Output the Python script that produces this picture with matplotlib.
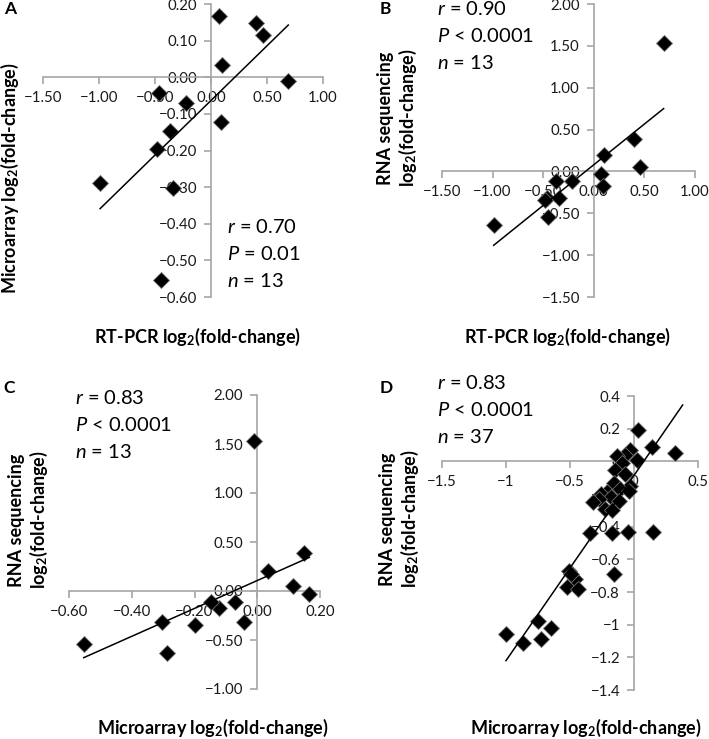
import numpy as np
import matplotlib
matplotlib.use("Agg")
import matplotlib.pyplot as plt

# =============================
# DATA
# =============================

# 13 genes: RT-PCR vs microarray vs RNA sequencing, log2(fold-change)
rtpcr = [0.07, 0.40, 0.46, 0.10, 0.69, -0.46, -0.22, 0.09, -0.37, -0.48, -0.99, -0.34, -0.45]
microarray = [0.166, 0.148, 0.114, 0.033, -0.010, -0.042, -0.070, -0.122, -0.148, -0.197, -0.288, -0.302, -0.553]
rnaseq = [-0.030, 0.385, 0.055, 0.200, 1.530, -0.320, -0.115, -0.170, -0.115, -0.345, -0.635, -0.320, -0.540]

# 37 genes: microarray vs RNA sequencing
d_micro = [0.03, 0.14, 0.32, -0.03, -0.07, -0.13, 0.02, -0.09, -0.15, -0.07,
           -0.16, -0.03, -0.11, -0.04, -0.21, -0.26, -0.18, -0.12, -0.27, -0.32,
           -0.23, -0.17, -0.34, -0.17, -0.05, 0.15, -0.16, -0.51, -0.46, -0.52,
           -0.44, -0.75, -0.65, -1.00, -0.87, -0.73, -0.49]
d_rnaseq = [0.19, 0.09, 0.05, 0.07, 0.04, 0.03, 0.01, -0.01, -0.05, -0.08,
            -0.13, -0.15, -0.17, -0.18, -0.19, -0.20, -0.22, -0.24, -0.23, -0.25,
            -0.29, -0.30, -0.44, -0.44, -0.43, -0.43, -0.69, -0.67, -0.72, -0.77,
            -0.78, -0.98, -1.02, -1.06, -1.11, -1.09, -0.69]

ticks_a_x = [-1.5, -1.0, -0.5, 0.0, 0.5, 1.0]
ticks_a_y = [-0.6, -0.5, -0.4, -0.3, -0.2, -0.1, 0.0, 0.1, 0.2]
ticks_b_y = [-1.5, -1.0, -0.5, 0.0, 0.5, 1.0, 1.5, 2.0]
ticks_c_x = [-0.6, -0.4, -0.2, 0.0, 0.2]
ticks_c_y = [-1.0, -0.5, 0.0, 0.5, 1.0, 1.5, 2.0]
ticks_d_x = [-1.5, -1.0, -0.5, 0.0, 0.5]
ticks_d_y = [-1.4, -1.2, -1.0, -0.8, -0.6, -0.4, -0.2, 0.0, 0.2, 0.4]
labels_d_x = ["\u22121.5", "\u22121", "\u22120.5", "0", "0.5"]
labels_d_y = ["\u22121.4", "\u22121.2", "\u22121", "\u22120.8", "\u22120.6",
              "\u22120.4", "\u22120.2", "0", "0.2", "0.4"]

stats_a = [r"$r$ = 0.70", r"$P$ = 0.01", r"$n$ = 13"]
stats_b = [r"$r$ = 0.90", r"$P$ < 0.0001", r"$n$ = 13"]
stats_c = [r"$r$ = 0.83", r"$P$ < 0.0001", r"$n$ = 13"]
stats_d = [r"$r$ = 0.83", r"$P$ < 0.0001", r"$n$ = 37"]

LBL_RT = r"RT-PCR log$_\mathbf{2}$(fold-change)"
LBL_MA = r"Microarray log$_\mathbf{2}$(fold-change)"
LBL_RNA = "RNA sequencing\n" + r"log$_\mathbf{2}$(fold-change)"

# =============================
# STYLE
# =============================

W, H = 709, 739
GREY = "#a6a6a6"

plt.rcParams["font.family"] = ["Lato", "DejaVu Sans"]
plt.rcParams["mathtext.fontset"] = "custom"
plt.rcParams["mathtext.rm"] = "Lato"
plt.rcParams["mathtext.it"] = "Lato:italic"
plt.rcParams["mathtext.bf"] = "Lato:bold"

fig = plt.figure(figsize=(W / 100, H / 100), dpi=100)


def fx(x):
    return x / W


def fy(y):
    return 1 - y / H


def fmt2(v):
    return f"{v:.2f}".replace("-", "\u2212")


def panel(box, x, y, xticks, yticks, xlabels=None, ylabels=None, forward=0.0):
    left, top, right, bottom = box
    ax = fig.add_axes([fx(left), fy(bottom), fx(right - left), (bottom - top) / H])
    ax.patch.set_alpha(0)
    ax.set_xlim(xticks[0], xticks[-1])
    ax.set_ylim(yticks[0], yticks[-1])
    for s in ["top", "right"]:
        ax.spines[s].set_visible(False)
    for s in ["left", "bottom"]:
        ax.spines[s].set_position(("data", 0))
        ax.spines[s].set_color(GREY)
        ax.spines[s].set_linewidth(1.2)
    ax.set_xticks(xticks)
    ax.set_yticks(yticks)
    ax.set_xticklabels(xlabels if xlabels else [fmt2(v) for v in xticks])
    ax.set_yticklabels(ylabels if ylabels else [fmt2(v) for v in yticks])
    ax.tick_params(direction="out", length=5, width=1.2, color=GREY,
                   labelsize=10.8, labelcolor="#1a1a1a")
    ax.tick_params(axis="x", pad=5)
    ax.tick_params(axis="y", pad=5)

    ax.plot(x, y, "D", ms=8.6, mfc="black", mec="#707070", mew=0.6,
            zorder=3, clip_on=False)

    # linear trendline (least squares)
    slope, icpt = np.polyfit(x, y, 1)
    xs = np.array([min(x), max(x) + forward])
    ax.plot(xs, slope * xs + icpt, color="black", lw=1.1, zorder=4)
    return ax


panel((43, 4, 323, 297), rtpcr, microarray, ticks_a_x, ticks_a_y)
panel((442, 4, 695, 297), rtpcr, rnaseq, ticks_a_x, ticks_b_y)
panel((69, 395, 320, 689), microarray, rnaseq, ticks_c_x, ticks_c_y)
panel((442, 396, 698, 690), d_micro, d_rnaseq, ticks_d_x, ticks_d_y,
      labels_d_x, labels_d_y, forward=0.06)

# panel letters
for letter, (lx, ly) in zip("ABCD", [(4, 9), (380, 9), (3, 388), (380, 388)]):
    fig.text(fx(lx), fy(ly), letter, fontsize=12.5, fontweight="bold",
             ha="left", va="center")

# stats
for stats, sx, sy in [(stats_a, 227, 227), (stats_b, 437, 9),
                      (stats_c, 75, 398), (stats_d, 437, 383)]:
    for i, s in enumerate(stats):
        fig.text(fx(sx), fy(sy + i * 26.8), s, fontsize=14.5,
                 ha="left", va="center")

# axis titles
for txt, cx, cy in [(LBL_RT, 197, 337), (LBL_RT, 567, 337),
                    (LBL_MA, 213, 728), (LBL_MA, 586, 728)]:
    fig.text(fx(cx), fy(cy), txt, fontsize=13, fontweight="bold",
             ha="center", va="center")

for txt, cx, cy in [(LBL_MA, 10, 178), (LBL_RNA, 398, 118),
                    (LBL_RNA, 29, 520), (LBL_RNA, 400, 519)]:
    fig.text(fx(cx), fy(cy), txt, fontsize=13, fontweight="bold",
             ha="center", va="center", rotation=90, multialignment="center",
             linespacing=1.15)

fig.savefig("out.png", dpi=100)
